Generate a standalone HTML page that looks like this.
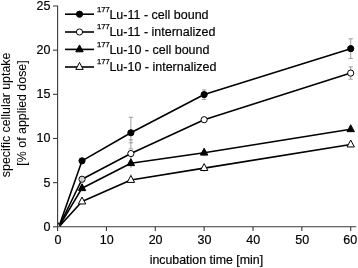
<!DOCTYPE html><html><head><meta charset="utf-8"><style>html,body{margin:0;padding:0;background:#fff}</style></head><body><svg width="358" height="268" viewBox="0 0 358 268" style="display:block;font-family:'Liberation Sans',Arial,sans-serif;font-size:12.5px" stroke-width="0.18">
<rect width="358" height="268" fill="#fff"/>
<line x1="130.88" y1="117.30" x2="130.88" y2="148.80" stroke="#7a7a7a" stroke-width="0.7"/><line x1="128.68" y1="117.30" x2="133.07" y2="117.30" stroke="#7a7a7a" stroke-width="0.7"/><line x1="128.68" y1="139.90" x2="133.07" y2="139.90" stroke="#7a7a7a" stroke-width="0.7"/><line x1="128.68" y1="142.80" x2="133.07" y2="142.80" stroke="#7a7a7a" stroke-width="0.7"/><line x1="128.68" y1="148.80" x2="133.07" y2="148.80" stroke="#7a7a7a" stroke-width="0.7"/>
<line x1="130.88" y1="153.50" x2="130.88" y2="168.20" stroke="#7a7a7a" stroke-width="0.7"/>
<line x1="130.88" y1="174.30" x2="130.88" y2="180.00" stroke="#7a7a7a" stroke-width="0.7"/>
<line x1="204.15" y1="150.00" x2="204.15" y2="156.30" stroke="#7a7a7a" stroke-width="0.7"/>
<line x1="204.15" y1="165.00" x2="204.15" y2="172.00" stroke="#7a7a7a" stroke-width="0.7"/>
<line x1="204.15" y1="89.90" x2="204.15" y2="99.50" stroke="#7a7a7a" stroke-width="0.7"/><line x1="201.95" y1="89.90" x2="206.35" y2="89.90" stroke="#7a7a7a" stroke-width="0.7"/><line x1="201.95" y1="99.50" x2="206.35" y2="99.50" stroke="#7a7a7a" stroke-width="0.7"/>
<line x1="350.70" y1="38.80" x2="350.70" y2="58.50" stroke="#7a7a7a" stroke-width="0.7"/><line x1="348.50" y1="38.80" x2="352.90" y2="38.80" stroke="#7a7a7a" stroke-width="0.7"/><line x1="348.50" y1="58.50" x2="352.90" y2="58.50" stroke="#7a7a7a" stroke-width="0.7"/>
<line x1="350.70" y1="66.90" x2="350.70" y2="79.20" stroke="#7a7a7a" stroke-width="0.7"/><line x1="348.50" y1="66.90" x2="352.90" y2="66.90" stroke="#7a7a7a" stroke-width="0.7"/><line x1="348.50" y1="79.20" x2="352.90" y2="79.20" stroke="#7a7a7a" stroke-width="0.7"/>
<path d="M53,6.00 H57.6 V226.8 H356.3" fill="none" stroke="#3a3a3a" stroke-width="1.1"/>
<line x1="53" y1="226.80" x2="57.6" y2="226.80" stroke="#3a3a3a" stroke-width="1.1"/>
<line x1="53" y1="182.64" x2="57.6" y2="182.64" stroke="#3a3a3a" stroke-width="1.1"/>
<line x1="53" y1="138.48" x2="57.6" y2="138.48" stroke="#3a3a3a" stroke-width="1.1"/>
<line x1="53" y1="94.32" x2="57.6" y2="94.32" stroke="#3a3a3a" stroke-width="1.1"/>
<line x1="53" y1="50.16" x2="57.6" y2="50.16" stroke="#3a3a3a" stroke-width="1.1"/>
<line x1="57.60" y1="226.8" x2="57.60" y2="231.10000000000002" stroke="#3a3a3a" stroke-width="1.1"/>
<line x1="106.45" y1="226.8" x2="106.45" y2="231.10000000000002" stroke="#3a3a3a" stroke-width="1.1"/>
<line x1="155.30" y1="226.8" x2="155.30" y2="231.10000000000002" stroke="#3a3a3a" stroke-width="1.1"/>
<line x1="204.15" y1="226.8" x2="204.15" y2="231.10000000000002" stroke="#3a3a3a" stroke-width="1.1"/>
<line x1="253.00" y1="226.8" x2="253.00" y2="231.10000000000002" stroke="#3a3a3a" stroke-width="1.1"/>
<line x1="301.85" y1="226.8" x2="301.85" y2="231.10000000000002" stroke="#3a3a3a" stroke-width="1.1"/>
<line x1="350.70" y1="226.8" x2="350.70" y2="231.10000000000002" stroke="#3a3a3a" stroke-width="1.1"/>
<text stroke="#000" x="50.4" y="230.80" text-anchor="end">0</text>
<text stroke="#000" x="50.4" y="186.64" text-anchor="end">5</text>
<text stroke="#000" x="50.4" y="142.48" text-anchor="end">10</text>
<text stroke="#000" x="50.4" y="98.32" text-anchor="end">15</text>
<text stroke="#000" x="50.4" y="54.16" text-anchor="end">20</text>
<text stroke="#000" x="50.4" y="10.00" text-anchor="end">25</text>
<text stroke="#000" x="57.90" y="244.0" text-anchor="middle">0</text>
<text stroke="#000" x="106.75" y="244.0" text-anchor="middle">10</text>
<text stroke="#000" x="155.60" y="244.0" text-anchor="middle">20</text>
<text stroke="#000" x="204.45" y="244.0" text-anchor="middle">30</text>
<text stroke="#000" x="253.30" y="244.0" text-anchor="middle">40</text>
<text stroke="#000" x="302.15" y="244.0" text-anchor="middle">50</text>
<text stroke="#000" x="350.30" y="244.0" text-anchor="middle">60</text>
<text stroke="#000" x="206.4" y="264.3" font-size="12.38" text-anchor="middle">incubation time [min]</text>
<text stroke="#000" transform="translate(10.1,114.9) rotate(-90)" font-size="12.38" stroke-width="0.05" text-anchor="middle">specific cellular uptake</text>
<text stroke="#000" transform="translate(25.8,113.0) rotate(-90)" font-size="12.38" stroke-width="0.05" text-anchor="middle">[% of applied dose]</text>
<clipPath id="lc"><rect x="58.1" y="0" width="301" height="226.3"/></clipPath>
<path d="M58.8,227.0 L82.03,160.84 L130.88,132.77 L204.15,94.58 L350.70,48.64" fill="none" stroke="#000" stroke-width="1.6" stroke-linejoin="round" clip-path="url(#lc)"/>
<path d="M58.8,227.0 L82.03,179.23 L130.88,153.54 L204.15,119.74 L350.70,73.10" fill="none" stroke="#000" stroke-width="1.6" stroke-linejoin="round" clip-path="url(#lc)"/>
<path d="M58.8,227.0 L82.03,188.21 L130.88,163.22 L204.15,152.70 L350.70,129.25" fill="none" stroke="#000" stroke-width="1.6" stroke-linejoin="round" clip-path="url(#lc)"/>
<path d="M58.8,227.0 L82.03,201.58 L130.88,180.02 L204.15,168.10 L350.70,144.56" fill="none" stroke="#000" stroke-width="1.6" stroke-linejoin="round" clip-path="url(#lc)"/>
<clipPath id="pc"><rect x="58.1" y="0" width="300" height="226.3"/></clipPath><g clip-path="url(#pc)">
<circle cx="57.60" cy="226.60" r="3.1" fill="#000" stroke="#000" stroke-width="1"/>
<circle cx="57.60" cy="226.60" r="3.1" fill="#fff" stroke="#000" stroke-width="1"/>
<polygon points="57.60,222.10 53.90,229.00 61.30,229.00" fill="#000" stroke="#000" stroke-width="1" stroke-linejoin="miter"/>
<polygon points="57.60,222.10 53.90,229.00 61.30,229.00" fill="#fff" stroke="#000" stroke-width="1" stroke-linejoin="miter"/>
</g>
<circle cx="82.03" cy="160.84" r="3.1" fill="#000" stroke="#000" stroke-width="1"/>
<circle cx="130.88" cy="132.77" r="3.1" fill="#000" stroke="#000" stroke-width="1"/>
<circle cx="204.15" cy="94.58" r="3.1" fill="#000" stroke="#000" stroke-width="1"/>
<circle cx="350.70" cy="48.64" r="3.1" fill="#000" stroke="#000" stroke-width="1"/>
<circle cx="82.03" cy="179.23" r="3.1" fill="#fff" stroke="#000" stroke-width="1"/>
<circle cx="130.88" cy="153.54" r="3.1" fill="#fff" stroke="#000" stroke-width="1"/>
<circle cx="204.15" cy="119.74" r="3.1" fill="#fff" stroke="#000" stroke-width="1"/>
<circle cx="350.70" cy="73.10" r="3.1" fill="#fff" stroke="#000" stroke-width="1"/>
<polygon points="82.03,183.71 78.33,190.61 85.73,190.61" fill="#000" stroke="#000" stroke-width="1" stroke-linejoin="miter"/>
<polygon points="130.88,158.72 127.17,165.62 134.57,165.62" fill="#000" stroke="#000" stroke-width="1" stroke-linejoin="miter"/>
<polygon points="204.15,148.20 200.45,155.10 207.85,155.10" fill="#000" stroke="#000" stroke-width="1" stroke-linejoin="miter"/>
<polygon points="350.70,124.75 347.00,131.65 354.40,131.65" fill="#000" stroke="#000" stroke-width="1" stroke-linejoin="miter"/>
<polygon points="82.03,197.08 78.33,203.98 85.73,203.98" fill="#fff" stroke="#000" stroke-width="1" stroke-linejoin="miter"/>
<polygon points="130.88,175.52 127.17,182.42 134.57,182.42" fill="#fff" stroke="#000" stroke-width="1" stroke-linejoin="miter"/>
<polygon points="204.15,163.60 200.45,170.50 207.85,170.50" fill="#fff" stroke="#000" stroke-width="1" stroke-linejoin="miter"/>
<polygon points="350.70,140.06 347.00,146.96 354.40,146.96" fill="#fff" stroke="#000" stroke-width="1" stroke-linejoin="miter"/>
<line x1="82.03" y1="179.20" x2="82.03" y2="179.30" stroke="#7a7a7a" stroke-width="0.7"/><line x1="79.83" y1="178.00" x2="84.23" y2="178.00" stroke="#7a7a7a" stroke-width="0.7"/><line x1="79.83" y1="180.20" x2="84.23" y2="180.20" stroke="#7a7a7a" stroke-width="0.7"/>
<line x1="65" y1="14.2" x2="94" y2="14.2" stroke="#000" stroke-width="1.6"/>
<circle cx="79.50" cy="14.20" r="3.1" fill="#000" stroke="#000" stroke-width="1"/>
<text stroke="#000" x="97" y="18.50"><tspan font-size="7.7" dy="-6.9" stroke="#000" stroke-width="0.25">177</tspan><tspan dy="6.9" x="109.4">Lu-11 - cell bound</tspan></text>
<line x1="65" y1="32.0" x2="94" y2="32.0" stroke="#000" stroke-width="1.6"/>
<circle cx="79.50" cy="32.00" r="3.1" fill="#fff" stroke="#000" stroke-width="1"/>
<text stroke="#000" x="97" y="36.30"><tspan font-size="7.7" dy="-6.9" stroke="#000" stroke-width="0.25">177</tspan><tspan dy="6.9" x="109.4">Lu-11 - internalized</tspan></text>
<line x1="65" y1="49.4" x2="94" y2="49.4" stroke="#000" stroke-width="1.6"/>
<polygon points="79.50,44.90 75.80,51.80 83.20,51.80" fill="#000" stroke="#000" stroke-width="1" stroke-linejoin="miter"/>
<text stroke="#000" x="97" y="53.70"><tspan font-size="7.7" dy="-6.9" stroke="#000" stroke-width="0.25">177</tspan><tspan dy="6.9" x="109.4">Lu-10 - cell bound</tspan></text>
<line x1="65" y1="67.0" x2="94" y2="67.0" stroke="#000" stroke-width="1.6"/>
<polygon points="79.50,62.50 75.80,69.40 83.20,69.40" fill="#fff" stroke="#000" stroke-width="1" stroke-linejoin="miter"/>
<text stroke="#000" x="97" y="71.30"><tspan font-size="7.7" dy="-6.9" stroke="#000" stroke-width="0.25">177</tspan><tspan dy="6.9" x="109.4">Lu-10 - internalized</tspan></text>
</svg></body></html>
